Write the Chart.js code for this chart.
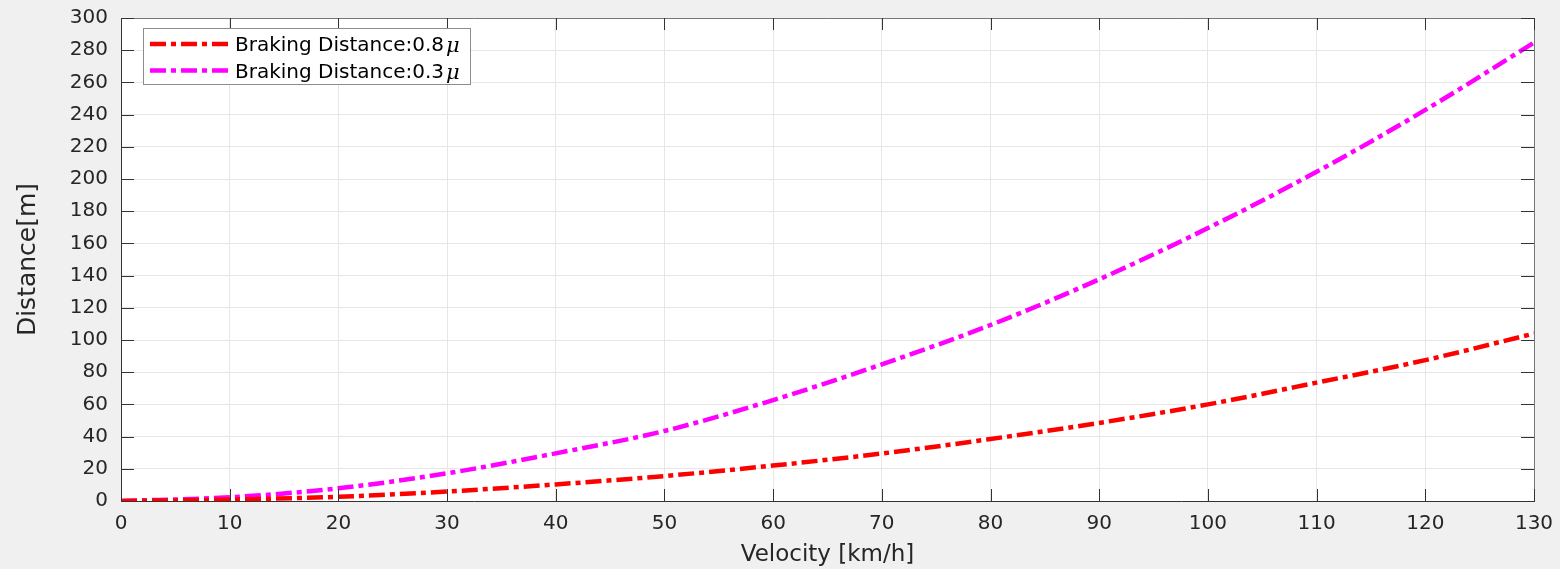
<!DOCTYPE html>
<html>
<head>
<meta charset="utf-8">
<title>Braking Distance</title>
<script src="https://cdn.jsdelivr.net/npm/chart.js@4.4.1/dist/chart.umd.min.js"></script>
<style>
    html, body { margin: 0; padding: 0; background: #f0f0f0; }
    #wrap { width: 1560px; height: 569px; }
</style>
</head>
<body>
<div id="wrap"><canvas id="brakingChart"></canvas></div>
<script>
// Velocity in km/h, distances in metres
const velocities = [0, 10, 20, 30, 40, 50, 60, 70, 80, 90, 100, 110, 120, 130];
const distanceHighMu = [0, 0.9, 2.6, 5.9, 10.3, 15.5, 22, 29.5, 38.5, 48.5, 60, 73.5, 87.5, 104];
const distanceLowMu = [0, 2.3, 7.9, 17.2, 29.6, 43.5, 62.7, 84.9, 109.3, 137.7, 169.5, 204.5, 242.9, 284.7];
const seriesLabels = ["Braking Distance:0.8", "Braking Distance:0.3"];
const xTicks = [0, 10, 20, 30, 40, 50, 60, 70, 80, 90, 100, 110, 120, 130];
const yTicks = [0, 20, 40, 60, 80, 100, 120, 140, 160, 180, 200, 220, 240, 260, 280, 300];

const textColor = "#262626";
const tickFont = { family: "DejaVu Sans", size: 20 };
const lineDash = [16, 5, 5, 5];

const toPoints = (ys) => velocities.map((v, i) => ({ x: v, y: ys[i] }));

// white plot area behind the grid
const plotBackground = {
    id: "plotBackground",
    beforeDraw(chart) {
        const { ctx, chartArea: a } = chart;
        ctx.save();
        ctx.fillStyle = "#ffffff";
        ctx.fillRect(a.left, a.top, a.right - a.left, a.bottom - a.top);
        ctx.restore();
    }
};

// box outline plus inward tick marks on all four sides
const axesBox = {
    id: "axesBox",
    afterDatasetsDraw(chart) {
        const { ctx, chartArea: a, scales } = chart;
        ctx.save();
        ctx.lineWidth = 1;
        ctx.strokeStyle = "#777777";
        ctx.beginPath();
        ctx.moveTo(a.left, a.top + 0.5);
        ctx.lineTo(a.right + 0.5, a.top + 0.5);
        ctx.lineTo(a.right + 0.5, a.bottom);
        ctx.stroke();

        ctx.strokeStyle = "#333333";
        ctx.beginPath();
        xTicks.forEach(v => {
            const px = Math.round(scales.x.getPixelForValue(v)) + 0.5;
            ctx.moveTo(px, a.bottom);
            ctx.lineTo(px, a.bottom - 12);
            ctx.moveTo(px, a.top);
            ctx.lineTo(px, a.top + 12);
        });
        yTicks.forEach(v => {
            const py = Math.round(scales.y.getPixelForValue(v)) + 0.5;
            ctx.moveTo(a.left, py);
            ctx.lineTo(a.left + 13, py);
            ctx.moveTo(a.right, py);
            ctx.lineTo(a.right - 13, py);
        });
        ctx.stroke();
        ctx.restore();
    }
};

// legend in the upper-left corner, with an italic mu after each label
const legendBox = {
    id: "legendBox",
    afterDraw(chart) {
        const { ctx, chartArea: a } = chart;
        const x0 = a.left + 22, y0 = a.top + 10;
        const labelFont = '20px "DejaVu Sans"';
        const muFont = 'italic 21px "DejaVu Serif"';
        ctx.save();
        ctx.font = labelFont;
        const textW = Math.max(...seriesLabels.map(t => ctx.measureText(t).width));
        ctx.font = muFont;
        const muW = ctx.measureText("\u03bc").width;
        const w = Math.round(92 + textW + 2 + muW + 10), h = 56;

        ctx.fillStyle = "#ffffff";
        ctx.fillRect(x0, y0, w, h);
        ctx.strokeStyle = "#8c8c8c";
        ctx.lineWidth = 1;
        ctx.strokeRect(x0 + 0.5, y0 + 0.5, w, h);

        chart.data.datasets.forEach((ds, i) => {
            const y = y0 + 16 + i * 26.5;
            ctx.strokeStyle = ds.borderColor;
            ctx.lineWidth = ds.borderWidth;
            ctx.setLineDash(ds.borderDash);
            ctx.beginPath();
            ctx.moveTo(x0 + 7, y);
            ctx.lineTo(x0 + 85, y);
            ctx.stroke();
            ctx.setLineDash([]);

            ctx.fillStyle = "#000000";
            ctx.textBaseline = "alphabetic";
            ctx.font = labelFont;
            ctx.fillText(seriesLabels[i], x0 + 92, y + 7);
            ctx.font = muFont;
            ctx.fillText("\u03bc", x0 + 94 + textW, y + 8);
        });
        ctx.restore();
    }
};

new Chart(document.getElementById("brakingChart"), {
    type: "line",
    data: {
        datasets: [
            {
                label: seriesLabels[0],
                data: toPoints(distanceHighMu),
                borderColor: "#ff0000",
                borderWidth: 4.5,
                borderDash: lineDash,
                pointRadius: 0,
                cubicInterpolationMode: "monotone",
                fill: false
            },
            {
                label: seriesLabels[1],
                data: toPoints(distanceLowMu),
                borderColor: "#ff00ff",
                borderWidth: 4.5,
                borderDash: lineDash,
                pointRadius: 0,
                cubicInterpolationMode: "monotone",
                fill: false
            }
        ]
    },
    options: {
        responsive: true,
        maintainAspectRatio: false,
        animation: false,
        layout: { padding: { top: 18, right: 26, left: 0, bottom: 0 } },
        plugins: {
            legend: { display: false },
            tooltip: { enabled: false }
        },
        scales: {
            x: {
                type: "linear",
                min: 0,
                max: 130,
                afterFit: (scale) => {
                    scale.height = 68;
                    scale.paddingLeft = 0;
                    scale.paddingRight = 0;
                },
                afterBuildTicks: (scale) => { scale.ticks = xTicks.map(v => ({ value: v })); },
                ticks: { color: textColor, font: tickFont, padding: 11, maxRotation: 0 },
                grid: { color: "#e6e6e6", drawTicks: false },
                border: { display: true, color: "#333333" },
                title: {
                    display: true,
                    text: "Velocity [km/h]",
                    color: textColor,
                    font: { family: "DejaVu Sans", size: 23 },
                    padding: { top: 0, bottom: 0 }
                }
            },
            y: {
                min: 0,
                max: 300,
                afterFit: (scale) => {
                    scale.width = 121;
                    // keep the top label from pushing the plot area down
                    scale.paddingTop = 0;
                    scale.paddingBottom = 0;
                },
                afterBuildTicks: (scale) => { scale.ticks = yTicks.map(v => ({ value: v })); },
                ticks: { color: textColor, font: tickFont, padding: 13 },
                grid: { color: "#e6e6e6", drawTicks: false },
                border: { display: true, color: "#333333" },
                title: {
                    display: true,
                    text: "Distance[m]",
                    color: textColor,
                    font: { family: "DejaVu Sans", size: 25 },
                    padding: { top: 13, bottom: 0 }
                }
            }
        }
    },
    plugins: [plotBackground, axesBox, legendBox]
});
</script>
</body>
</html>
